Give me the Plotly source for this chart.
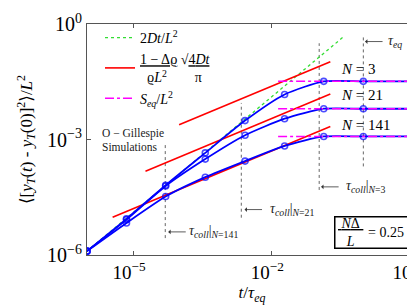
import plotly.graph_objects as go

# ---------------- data ----------------
t_sim = [1e-6, 7.2e-6, 5.1e-5, 3.7e-4, 2.7e-3, 1.95e-2, 0.138, 1.0, 10.0]
msd_N3 = [1.26e-6, 8.7e-6, 6.5e-5, 4.5e-4, 3.1e-3, 1.48e-2, 3.24e-2, 3.24e-2, 3.24e-2]
msd_N21 = [1.26e-6, 8.3e-6, 6.2e-5, 3.1e-4, 1.29e-3, 3.47e-3, 6.3e-3, 6.3e-3, 6.3e-3]
msd_N141 = [1.26e-6, 6.8e-6, 3.3e-5, 1.05e-4, 2.75e-4, 6.8e-4, 1.2e-3, 1.2e-3, 1.2e-3]
marker_sizes = [6, 6, 6, 6, 6, 6, 6, 6, 0]

# 2Dt/L^2 (green dotted) end points
green_t = [1e-6, 0.376]
green_y = [1.26e-6, 0.472]

# short-time red lines (end points)
red_t = [[1e-4, 0.192], [1.86e-5, 0.192], [3.6e-6, 0.192]]
red_y = [[2.4e-3, 0.105], [1.5e-4, 0.0151], [9.5e-6, 2.19e-3]]

# S_eq/L^2 plateaus (magenta dash-dot)
seq_t = [0.0141, 10.0]
seq_levels = [3.24e-2, 6.3e-3, 1.2e-3]

# vertical dotted markers: tau_coll for N=141, 21, 3 and tau_eq
vline_t = [5.0e-5, 2.24e-3, 0.110, 1.0]
vline_y0 = [2.75e-6, 9.3e-6, 4.9e-5, 2.0e-4]
vline_y1 = [7.4e-4, 8.9e-3, 0.316, 0.525]

N_labels = ["<i>N</i> = 3", "<i>N</i> = 21", "<i>N</i> = 141"]

x_tickvals = [1e-5, 1e-2, 1e1]
x_ticktext = ["10<sup>−5</sup>", "10<sup>−2</sup>", "10<sup>1</sup>"]
y_tickvals = [1e-6, 1e-3, 1e0]
y_ticktext = ["10<sup>−6</sup>", "10<sup>−3</sup>", "10<sup>0</sup>"]

FONT = "Liberation Serif, DejaVu Serif, serif"
BLUE = "#0000ff"
RED = "#ff0000"
GREEN = "#33dd33"
MAGENTA = "#ff00ff"
GRAY = "#666666"

L_M, R_M, T_M, B_M = 79, 6, 16, 60
PW, PH = 415 - L_M - R_M, 307 - T_M - B_M


def px(xp):
    return (xp - L_M) / PW


def py(yp):
    return (307 - B_M - yp) / PH


fig = go.Figure()

# vertical dotted lines
for t, y0, y1 in zip(vline_t, vline_y0, vline_y1):
    fig.add_trace(go.Scatter(x=[t, t], y=[y0, y1], mode="lines",
                             line=dict(color=GRAY, width=1, dash="dot"),
                             showlegend=False, hoverinfo="skip"))

# green 2Dt/L^2
fig.add_trace(go.Scatter(x=green_t, y=green_y, mode="lines",
                         line=dict(color=GREEN, width=1.3, dash="dot"),
                         name="2<i>Dt</i>/<i>L</i><sup>2</sup>", legendrank=1))

# red lines
for i, (tt, yy) in enumerate(zip(red_t, red_y)):
    fig.add_trace(go.Scatter(x=tt, y=yy, mode="lines",
                             line=dict(color=RED, width=1.6),
                             name="<u>1 − Δϱ</u> √<u>4<i>Dt</i></u><br>\u00a0\u00a0ϱ<i>L</i><sup>2</sup>\u00a0\u00a0\u00a0\u00a0\u00a0\u00a0\u00a0\u00a0π",
                             showlegend=(i == 0), legendrank=2))

# blue simulation curves (lines)
for yy in [msd_N3, msd_N21, msd_N141]:
    fig.add_trace(go.Scatter(x=t_sim, y=yy, mode="lines",
                             line=dict(color=BLUE, width=1.8, shape="spline", smoothing=0.6),
                             showlegend=False, hoverinfo="skip"))

# magenta plateaus
for i, lev in enumerate(seq_levels):
    fig.add_trace(go.Scatter(x=seq_t, y=[lev, lev], mode="lines",
                             line=dict(color=MAGENTA, width=1.5, dash="dashdot"),
                             name="<i>S<sub>eq</sub></i>/<i>L</i><sup>2</sup>",
                             showlegend=(i == 0), legendrank=3))

# blue markers
for yy in [msd_N3, msd_N21, msd_N141]:
    fig.add_trace(go.Scatter(x=t_sim, y=yy, mode="markers",
                             marker=dict(symbol="circle-open", size=marker_sizes, color=BLUE,
                                         line=dict(width=1.6, color=BLUE)),
                             showlegend=False))

ann = []
# N labels
for lab, ly in zip(N_labels, [-1.17, -1.84, -2.62]):
    ann.append(dict(x=-0.52, y=ly, xref="x", yref="y", text=lab, showarrow=False,
                    xanchor="left", yanchor="middle", font=dict(size=15, color="black")))

# tau arrows and labels
tau_texts = ["<i>τ<sub>coll</sub></i>|<sub><i>N</i>=141</sub>",
             "<i>τ<sub>coll</sub></i>|<sub><i>N</i>=21</sub>",
             "<i>τ<sub>coll</sub></i>|<sub><i>N</i>=3</sub>",
             "<i>τ<sub>eq</sub></i>"]
arrow_x = [-4.236, -2.58, -0.917, 0.037]
arrow_y = [-5.40, -4.82, -4.23, -0.456]
text_x = [-3.82, -2.06, -0.42, 0.50]
for ax_, ay_, tx, txt in zip(arrow_x, arrow_y, text_x, tau_texts):
    ann.append(dict(x=ax_, y=ay_, xref="x", yref="y", text="", showarrow=True,
                    ax=19, ay=0, axref="pixel", ayref="pixel",
                    arrowhead=1, arrowsize=1, arrowwidth=0.8, arrowcolor="#333333"))
    ann.append(dict(x=tx, y=ay_, xref="x", yref="y", text=txt, showarrow=False,
                    xanchor="left", yanchor="middle", font=dict(size=14, color="#222222")))

# Gillespie note
ann.append(dict(x=-5.72, y=-2.85, xref="x", yref="y", text="O − Gillespie", showarrow=False,
                xanchor="left", yanchor="middle", font=dict(size=11.5, color="#222222")))
ann.append(dict(x=-5.72, y=-3.20, xref="x", yref="y", text="Simulations", showarrow=False,
                xanchor="left", yanchor="middle", font=dict(size=11.5, color="#222222")))

# N Delta / L box
ann.append(dict(x=px(364.5), y=py(224.5), xref="paper", yref="paper",
                xanchor="center", yanchor="middle",
                text="", showarrow=False, width=74, height=30, bordercolor="black",
                borderwidth=1.5, borderpad=0, bgcolor="white"))
ann.append(dict(x=px(342), y=py(224.5), xref="paper", yref="paper",
                text="<u>\u00a0<i>N</i>Δ\u00a0</u><br><i>L</i>", showarrow=False,
                xanchor="center", yanchor="middle", align="center",
                font=dict(size=14, color="black")))
ann.append(dict(x=px(358), y=py(224.5), xref="paper", yref="paper",
                text="= 0.25", showarrow=False, xanchor="left", yanchor="middle",
                font=dict(size=14, color="black")))

fig.update_layout(
    width=415, height=307,
    margin=dict(l=L_M, r=R_M, t=T_M, b=B_M),
    paper_bgcolor="white", plot_bgcolor="white",
    font=dict(family=FONT, color="black"),
    showlegend=True,
    legend=dict(x=px(92), y=py(14), xanchor="left", yanchor="top", bgcolor="rgba(0,0,0,0)",
                font=dict(size=14), tracegroupgap=2, itemwidth=30),
    annotations=ann,
    xaxis=dict(type="log", range=[-6, 1.165], tickvals=x_tickvals, ticktext=x_ticktext,
               ticks="inside", ticklen=4, tickcolor="#555555", showline=True, linecolor="#555555",
               linewidth=1, mirror="ticks", showgrid=False, zeroline=False, automargin=False,
               tickfont=dict(size=19), ticklabelshift=-4,
               title=dict(text="<i>t</i>/<i>τ<sub>eq</sub></i>", font=dict(size=17), standoff=4)),
    yaxis=dict(type="log", range=[-6, 0], tickvals=y_tickvals, ticktext=y_ticktext,
               ticks="inside", ticklen=4, tickcolor="#555555", showline=True, linecolor="#555555",
               linewidth=1, mirror="ticks", showgrid=False, zeroline=False, automargin=False,
               tickfont=dict(size=20),
               title=dict(text="⟨[<i>y<sub>T</sub></i>(<i>t</i>) - <i>y<sub>T</sub></i>(0)]<sup>2</sup>⟩/<i>L</i><sup>2</sup>",
                          font=dict(size=17), standoff=10)),
)

fig.write_html("out.html")
